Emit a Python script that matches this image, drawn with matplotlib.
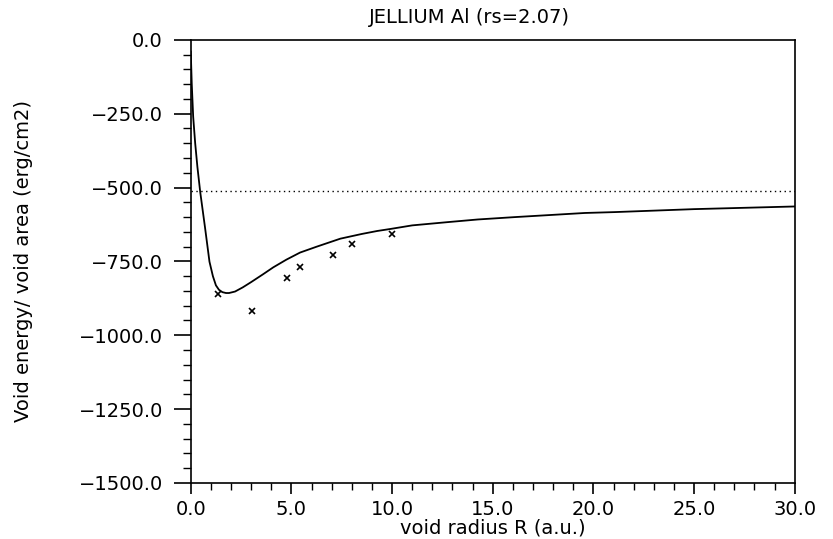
import matplotlib
matplotlib.use("Agg")
import matplotlib.pyplot as plt
from matplotlib.ticker import MultipleLocator, FuncFormatter

# ---- data ----
curve_R = [0.0, 0.05, 0.12, 0.22, 0.33, 0.47, 0.71, 0.93, 1.1, 1.25, 1.4, 1.57,
           1.75, 1.9, 2.2, 2.58, 3.0, 3.58, 4.1, 4.75, 5.43, 6.26, 7.43, 8.5,
           9.26, 9.93, 11.0, 12.76, 14.26, 16.09, 19.58, 21.07, 25.0, 30.0]
curve_E = [-40, -150, -260, -350, -430, -515, -636, -751, -800, -831, -846,
           -854, -857, -857, -852, -838, -820, -794, -770, -744, -720, -700,
           -673, -657, -647, -640, -628, -617, -608, -600, -586, -583, -573,
           -564]

points_R = [1.33, 3.05, 4.8, 5.45, 7.05, 8.0, 10.0]
points_E = [-859, -919, -805, -770, -727, -692, -656]

ref_level = -512

title = "JELLIUM Al (rs=2.07)"
xlabel = "void radius R (a.u.)"
ylabel = "Void energy/ void area (erg/cm2)"

plt.rcParams['font.family'] = ['DejaVu Sans']

fig = plt.figure(figsize=(8.33, 5.39), dpi=100)
ax = fig.add_axes([0.229, 0.104, 0.725, 0.822])

ax.plot(curve_R, curve_E, color='black', lw=1.3)
ax.axhline(ref_level, color='black', lw=1.0, ls=(0, (1, 2.5)))
ax.plot(points_R, points_E, ls='none', marker='x', ms=4, mew=1.2, color='black')

ax.set_xlim(0, 30)
ax.set_ylim(-1500, 0)
ax.xaxis.set_major_locator(MultipleLocator(5))
ax.xaxis.set_minor_locator(MultipleLocator(1))
ax.yaxis.set_major_locator(MultipleLocator(250))
ax.yaxis.set_minor_locator(MultipleLocator(50))
fmt = FuncFormatter(lambda v, p: ("\u2212" if v < 0 else "") + f"{abs(v):.1f}")
ax.xaxis.set_major_formatter(fmt)
ax.yaxis.set_major_formatter(fmt)

ax.tick_params(axis='y', which='major', direction='out', length=12, width=1.2,
               labelsize=14, pad=8)
ax.tick_params(axis='y', which='minor', direction='out', length=6, width=1.0)
ax.tick_params(axis='x', which='major', direction='out', length=8, width=1.2,
               labelsize=14, pad=4)
ax.tick_params(axis='x', which='minor', direction='out', length=5, width=1.0)
ax.tick_params(which='both', top=False, right=False)
for s in ax.spines.values():
    s.set_linewidth(1.2)

ax.set_xlabel(xlabel, fontsize=14, labelpad=0)
ax.set_ylabel(ylabel, fontsize=14)
ax.yaxis.set_label_coords(-0.262, 0.5)
fig.text(0.564, 0.968, title, ha='center', va='center', fontsize=14)

fig.savefig("out.png", dpi=100)
